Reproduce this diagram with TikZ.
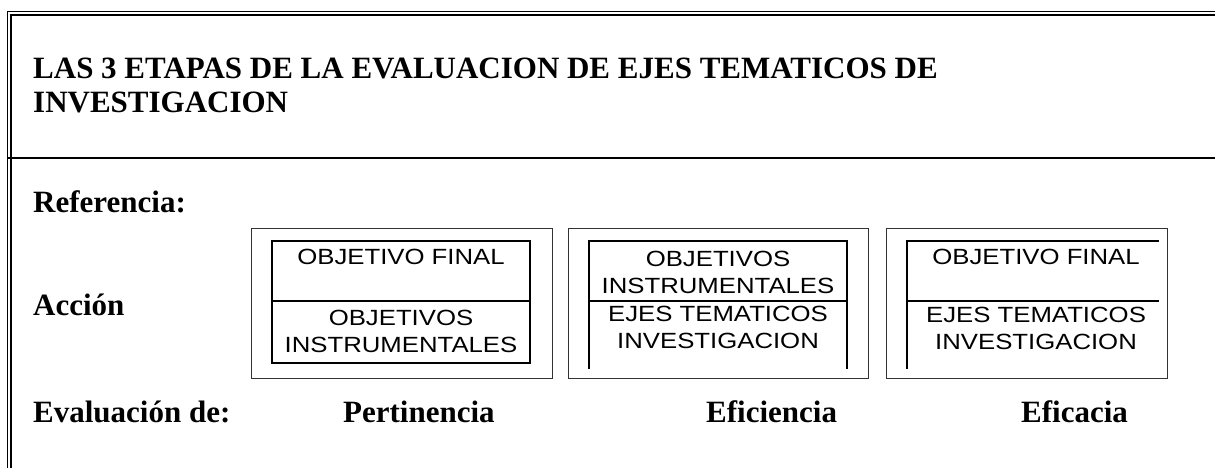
\documentclass[tikz,border=0pt]{standalone}
\usepackage{fontspec}
\setmainfont{Liberation Serif}
\newfontfamily\boxfont[FakeStretch=1.17]{Liberation Sans}
\begin{document}
\begin{tikzpicture}[x=1pt,y=-1pt,
  frame/.style={line width=1.8pt, draw=black},
  lbl/.style={font=\bfseries\fontsize{31}{34}\selectfont, anchor=base west, inner sep=0pt, align=left},
  stage/.style={draw=black!80, line width=1pt, minimum width=301pt, minimum height=150pt, inner sep=0pt},
  cell/.style={font=\boxfont\fontsize{22}{27}\selectfont, align=center, inner sep=0pt, anchor=base},
  innerline/.style={line width=1.5pt, draw=black}]
\useasboundingbox (0,0) rectangle (1215,468);
% frame
\draw[frame] (1215,11.5) -- (7.5,11.5) -- (7.5,468);
\draw[frame] (1215,15) -- (11,15) -- (11,468);
\draw[frame, line width=2.2pt] (7.5,158) -- (1215,158);
% title (base anchor = last line)
\node[lbl] (title) at (33,113) {LAS 3 ETAPAS DE LA EVALUACION DE EJES TEMATICOS DE\\INVESTIGACION};
% row labels
\node[lbl] (ref) at (33,212) {Referencia:};
\node[lbl] (acc) at (33,315) {Acción};
\node[lbl] (eval) at (33,422) {Evaluación de:};
\node[lbl] (pert) at (343,422) {Pertinencia};
\node[lbl] (efic) at (706,422) {Eficiencia};
\node[lbl] (efca) at (1021,422) {Eficacia};
% stage boxes
\node[stage] (s1) at (401.5,303) {};
\node[stage, minimum width=300pt] (s2) at (718,303) {};
\node[stage, minimum width=281pt] (s3) at (1026.5,303) {};
% box 1 inner
\draw[innerline] (272,241) rectangle (530,363);
\draw[innerline] (272,301) -- (530,301);
\node[cell] (b1t) at (401,264) {OBJETIVO FINAL};
\node[cell] (b1b) at (401,352) {OBJETIVOS\\INSTRUMENTALES};
% box 2 inner
\draw[innerline] (589,369) -- (589,241) -- (847,241) -- (847,369);
\draw[innerline] (589,301) -- (847,301);
\node[cell] (b2t) at (718,293) {OBJETIVOS\\INSTRUMENTALES};
\node[cell] (b2b) at (718,348) {EJES TEMATICOS\\INVESTIGACION};
% box 3 inner
\draw[innerline] (1159,241) -- (907,241) -- (907,369);
\draw[innerline] (907,301) -- (1159,301);
\node[cell] (b3t) at (1036,264) {OBJETIVO FINAL};
\node[cell] (b3b) at (1036,349) {EJES TEMATICOS\\INVESTIGACION};
\end{tikzpicture}
\end{document}
